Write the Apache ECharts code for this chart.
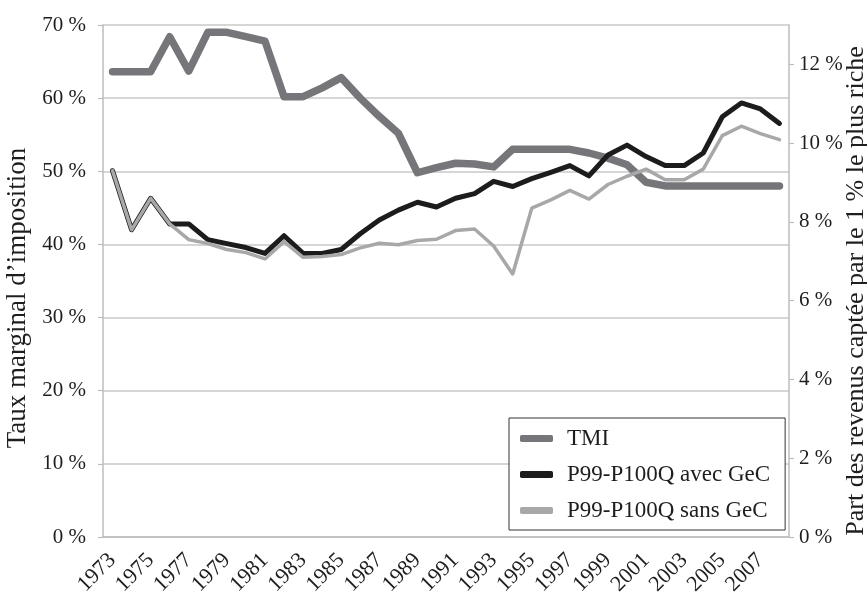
<!DOCTYPE html>
<html>
<head>
<meta charset="utf-8">
<script src="https://cdn.jsdelivr.net/npm/echarts@6.0.0/dist/echarts.min.js"></script>
<style>
html,body{margin:0;padding:0;background:#fff;}
#chart{width:867px;height:594px;}
</style>
</head>
<body>
<div id="chart"></div>
<script>
const years = ['1973','1974','1975','1976','1977','1978','1979','1980','1981','1982','1983','1984','1985','1986','1987','1988','1989','1990','1991','1992','1993','1994','1995','1996','1997','1998','1999','2000','2001','2002','2003','2004','2005','2006','2007','2008'];

const tmi = [63.6,63.6,63.6,68.4,63.7,69.0,69.0,68.4,67.8,60.2,60.2,61.4,62.8,60.0,57.5,55.2,49.8,50.5,51.1,51.0,50.6,53.0,53.0,53.0,53.0,52.5,51.8,50.9,48.5,48.0,48.0,48.0,48.0,48.0,48.0,48.0];

const avecGeC = [9.3,7.8,8.6,7.95,7.95,7.55,7.45,7.35,7.2,7.65,7.2,7.2,7.3,7.7,8.05,8.3,8.5,8.38,8.6,8.72,9.03,8.9,9.1,9.26,9.43,9.17,9.7,9.95,9.66,9.43,9.43,9.75,10.67,11.02,10.87,10.5];

const sansGeC = [9.3,7.8,8.6,7.95,7.55,7.45,7.3,7.22,7.06,7.5,7.1,7.12,7.17,7.34,7.46,7.42,7.53,7.56,7.78,7.82,7.39,6.68,8.35,8.56,8.8,8.58,8.95,9.16,9.34,9.07,9.07,9.34,10.19,10.43,10.24,10.09];

const leftTicks = [0,10,20,30,40,50,60,70];
const rightTicks = [0,2,4,6,8,10,12];

const seriesNames = ['TMI','P99-P100Q avec GeC','P99-P100Q sans GeC'];
const seriesColors = ['#76767a','#1c1c1c','#a8a8a8'];
const leftName = 'Taux marginal d’imposition';
const rightName = 'Part des revenus captée par le 1 % le plus riche';

const FONT = 'Liberation Serif';
const TXT = '#1e1e1e';
const AXC = '#bdbdbd';

const chart = echarts.init(document.getElementById('chart'), null, {renderer:'canvas'});
chart.setOption({
  animation:false,
  backgroundColor:'#ffffff',
  textStyle:{fontFamily:FONT},
  grid:{left:103,right:78,top:25,bottom:57,containLabel:false,outerBoundsMode:'none'},
  legend:{
    orient:'vertical',
    left:509, top:418,
    padding:[9,15,8,11],
    itemWidth:33, itemHeight:7, itemGap:13,
    borderColor:'#333', borderWidth:1,
    backgroundColor:'#fff',
    textStyle:{fontFamily:FONT,fontSize:23,color:TXT,padding:[0,0,0,9]},
    data:seriesNames.map((n,i)=>({name:n,icon:'roundRect',itemStyle:{color:seriesColors[i]}}))
  },
  xAxis:{
    type:'category',
    data:years,
    boundaryGap:true,
    axisLine:{lineStyle:{color:AXC,width:1.5}},
    axisTick:{interval:0,length:6,lineStyle:{color:AXC,width:1.2}},
    axisLabel:{interval:1,rotate:45,fontFamily:FONT,fontSize:22,color:TXT,margin:20},
    splitLine:{show:false}
  },
  yAxis:[
    {
      type:'value', min:0, max:70, interval:10, position:'left',
      name:leftName, nameLocation:'middle', nameGap:70,
      nameTextStyle:{fontFamily:FONT,fontSize:27,color:TXT,padding:[0,34,0,0]},
      axisLine:{show:true,lineStyle:{color:AXC,width:1.5}},
      axisTick:{show:true,length:5,lineStyle:{color:AXC,width:1.2}},
      axisLabel:{fontFamily:FONT,fontSize:21,color:TXT,margin:17,
        customValues:leftTicks, formatter:v=>v+' %'},
      splitLine:{show:true,lineStyle:{color:'#c8c8c8',width:1.5}}
    },
    {
      type:'value', min:0, max:13, interval:2, position:'right',
      name:rightName, nameLocation:'middle', nameGap:54, nameRotate:90,
      nameMoveOverlap:false,
      nameTextStyle:{fontFamily:FONT,fontSize:26,color:TXT,padding:[0,20,0,0]},
      axisLine:{show:true,lineStyle:{color:AXC,width:1.5}},
      axisTick:{show:true,length:5,customValues:rightTicks,lineStyle:{color:AXC,width:1.2}},
      axisLabel:{fontFamily:FONT,fontSize:21,color:TXT,margin:10,
        customValues:rightTicks, formatter:v=>v+' %'},
      splitLine:{show:false}
    }
  ],
  series:[
    {name:seriesNames[0],type:'line',yAxisIndex:0,data:tmi,symbol:'none',
     lineStyle:{color:seriesColors[0],width:7.5,cap:'round',join:'round'},itemStyle:{color:seriesColors[0]}},
    {name:seriesNames[1],type:'line',yAxisIndex:1,data:avecGeC,symbol:'none',
     lineStyle:{color:seriesColors[1],width:5,cap:'round',join:'round'},itemStyle:{color:seriesColors[1]}},
    {name:seriesNames[2],type:'line',yAxisIndex:1,data:sansGeC,symbol:'none',
     lineStyle:{color:seriesColors[2],width:3.5,cap:'round',join:'round'},itemStyle:{color:seriesColors[2]}}
  ]
});
</script>
</body>
</html>
